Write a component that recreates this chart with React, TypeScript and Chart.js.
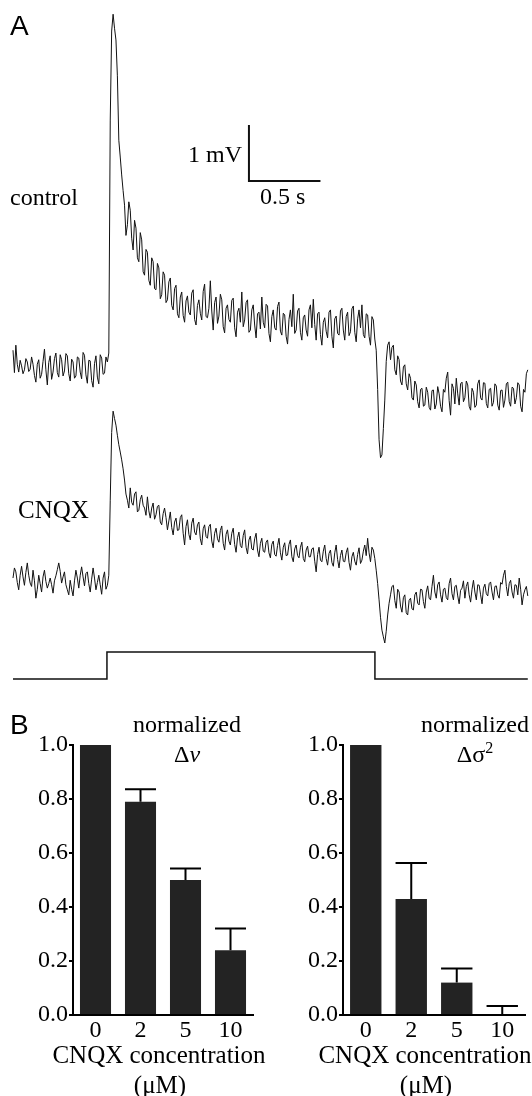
import React, { useEffect, useRef } from "react";
import { Chart, registerables } from "chart.js";

Chart.register(...registerables);

// ---------------- Panel A data (membrane potential, mV; sampled every DT s) ----------------
const DT = 0.01;

const CONTROL_MV = [
  0.30, -0.10, 0.39, 0.05, -0.09, 0.12, 0.02, -0.12, -0.05, 0.15, 0.09, -0.08, -0.04, 0.18, 0.05, -0.15, -0.27, 0.05, 0.13, -0.20,
  -0.13, 0.10, 0.32, -0.05, -0.32, 0.08, 0.20, -0.22, -0.09, 0.15, 0.25, -0.10, -0.18, 0.22, 0.13, -0.16, -0.07, 0.24, 0.20, -0.12,
  -0.25, 0.14, 0.09, -0.20, -0.16, 0.18, 0.16, -0.09, -0.21, 0.26, 0.21, -0.14, -0.29, 0.12, 0.11, -0.24, -0.36, 0.06, 0.20, -0.18,
  -0.30, 0.22, 0.16, -0.13, -0.11, 0.18, 0.09, 0.25, 4.41, 6.00, 6.30, 6.05, 5.84, 5.20, 4.05, 3.75, 3.43, 3.15, 2.89, 2.35,
  2.54, 2.95, 2.80, 2.30, 2.09, 2.62, 2.48, 1.95, 1.88, 2.40, 2.27, 1.70, 1.64, 2.10, 2.05, 1.55, 1.46, 1.95, 1.88, 1.40,
  1.38, 1.85, 1.77, 1.22, 1.29, 1.70, 1.64, 1.15, 1.20, 1.52, 1.59, 1.10, 1.02, 1.40, 1.46, 0.95, 0.88, 1.25, 1.34, 0.92,
  0.80, 1.18, 1.27, 0.98, 0.93, 1.32, 1.38, 0.85, 0.75, 1.10, 1.20, 0.96, 0.84, 1.35, 1.48, 0.90, 0.88, 1.05, 1.54, 1.00,
  0.66, 1.15, 1.25, 0.78, 0.91, 1.30, 1.20, 0.72, 0.61, 1.05, 1.11, 0.85, 0.80, 1.19, 1.23, 0.70, 0.54, 0.98, 1.05, 0.80,
  1.34, 0.72, 0.84, 1.15, 1.20, 0.62, 0.66, 1.02, 1.11, 0.75, 0.52, 0.95, 0.98, 0.68, 1.25, 0.80, 0.70, 1.12, 1.09, 0.60,
  0.45, 0.90, 1.02, 0.70, 0.66, 1.08, 1.16, 0.64, 0.57, 0.96, 0.93, 0.55, 0.41, 0.85, 1.02, 0.72, 1.30, 0.60, 0.66, 1.00,
  1.05, 0.62, 0.48, 0.88, 0.93, 0.66, 0.55, 1.02, 1.11, 0.70, 1.21, 0.76, 0.48, 0.95, 0.98, 0.58, 0.39, 0.80, 0.88, 0.64,
  0.52, 0.98, 1.02, 0.55, 0.34, 0.86, 0.91, 0.60, 0.57, 1.00, 1.05, 0.66, 0.48, 0.90, 0.98, 0.56, 0.63, 1.04, 1.09, 0.62,
  0.45, 0.86, 1.02, 0.70, 1.11, 0.58, 0.52, 0.95, 0.93, 0.55, 0.39, 0.90, 0.84, 0.50, 0.30, -0.40, -1.30, -1.62, -1.57, -1.10,
  -0.59, 0.10, 0.39, 0.45, 0.13, 0.35, 0.39, -0.05, -0.14, 0.20, 0.13, -0.25, -0.32, 0.00, 0.04, -0.30, -0.41, -0.12, -0.20, -0.55,
  -0.59, -0.25, -0.32, -0.62, -0.73, -0.40, -0.38, -0.70, -0.68, -0.36, -0.45, -0.72, -0.77, -0.42, -0.41, -0.75, -0.66, -0.35, -0.48, -0.70,
  -0.80, -0.40, -0.45, -0.20, -0.09, -0.60, -0.86, -0.30, -0.38, -0.66, -0.20, -0.48, -0.68, -0.30, -0.27, -0.62, -0.55, -0.25, -0.32, -0.70,
  -0.77, -0.38, -0.45, -0.72, -0.68, -0.30, -0.23, -0.55, -0.59, -0.28, -0.29, -0.65, -0.73, -0.40, -0.38, -0.70, -0.63, -0.30, -0.34, -0.68,
  -0.77, -0.42, -0.41, -0.72, -0.59, -0.30, -0.27, -0.62, -0.70, -0.36, -0.38, -0.66, -0.55, -0.28, -0.32, -0.70, -0.80, -0.40, -0.45, -0.12,
  -0.05,
];

const CNQX_MV = [
  0.00, 0.18, 0.11, -0.08, -0.21, 0.05, 0.21, 0.02, -0.13, 0.10, 0.27, 0.05, -0.09, -0.15, 0.14, -0.05, -0.36, -0.20, 0.05, -0.10,
  -0.25, 0.02, 0.14, -0.06, -0.18, -0.10, 0.00, -0.12, -0.27, -0.05, 0.04, 0.15, 0.27, 0.12, -0.09, 0.02, 0.11, -0.12, -0.21, -0.30,
  -0.04, -0.20, -0.32, -0.05, 0.14, 0.00, -0.18, 0.05, 0.20, 0.02, -0.14, 0.08, 0.11, -0.10, -0.25, -0.02, 0.18, 0.00, -0.21, -0.08,
  0.05, -0.12, -0.29, 0.00, 0.11, -0.20, -0.13, 0.05, 1.39, 2.60, 2.98, 2.85, 2.73, 2.55, 2.38, 2.25, 2.11, 1.95, 1.75, 1.50,
  1.39, 1.25, 1.61, 1.35, 1.30, 1.50, 1.54, 1.18, 1.21, 1.40, 1.48, 1.30, 1.25, 1.12, 1.45, 1.20, 1.07, 1.25, 1.34, 1.05,
  1.13, 1.28, 1.30, 1.00, 0.95, 1.15, 1.25, 1.08, 0.86, 1.02, 1.18, 0.90, 0.77, 1.00, 1.07, 0.85, 0.86, 1.08, 1.13, 0.80,
  0.59, 0.92, 1.04, 0.78, 0.68, 0.98, 1.07, 0.82, 0.77, 0.95, 1.00, 0.70, 0.59, 0.88, 0.95, 0.74, 0.71, 0.92, 0.96, 0.66,
  0.54, 0.80, 0.89, 0.70, 0.64, 0.85, 0.93, 0.62, 0.50, 0.78, 0.86, 0.66, 0.59, 0.80, 0.89, 0.60, 0.46, 0.72, 0.82, 0.58,
  0.54, 0.76, 0.86, 0.55, 0.43, 0.68, 0.75, 0.52, 0.50, 0.70, 0.80, 0.50, 0.38, 0.62, 0.71, 0.48, 0.46, 0.64, 0.68, 0.45,
  0.36, 0.60, 0.66, 0.42, 0.39, 0.58, 0.71, 0.45, 0.32, 0.55, 0.63, 0.40, 0.41, 0.60, 0.68, 0.38, 0.29, 0.52, 0.59, 0.40,
  0.36, 0.55, 0.64, 0.35, 0.29, 0.50, 0.57, 0.38, 0.38, 0.52, 0.54, 0.30, 0.11, 0.42, 0.55, 0.32, 0.29, 0.48, 0.59, 0.35,
  0.23, 0.44, 0.50, 0.28, 0.21, 0.45, 0.59, 0.33, 0.18, 0.40, 0.50, 0.30, 0.29, 0.45, 0.54, 0.28, 0.14, 0.38, 0.46, 0.30,
  0.23, 0.42, 0.54, 0.26, 0.32, 0.48, 0.59, 0.40, 0.71, 0.45, 0.29, 0.55, 0.50, 0.35, 0.14, -0.10, -0.39, -0.70, -0.93, -1.05,
  -1.16, -0.95, -0.66, -0.45, -0.30, -0.15, -0.13, -0.40, -0.54, -0.20, -0.25, -0.50, -0.61, -0.35, -0.30, -0.62, -0.66, -0.40, -0.36, -0.55,
  -0.57, -0.30, -0.25, -0.45, -0.48, -0.20, -0.21, -0.42, -0.54, -0.25, -0.14, -0.36, -0.39, -0.15, 0.05, -0.25, -0.36, -0.12, -0.07, -0.30,
  -0.43, -0.20, -0.18, -0.35, -0.39, -0.10, 0.00, -0.28, -0.39, -0.15, -0.13, -0.32, -0.46, -0.22, -0.18, -0.05, -0.36, -0.15, -0.07, -0.30,
  -0.43, -0.20, -0.04, -0.25, -0.39, -0.12, -0.13, -0.30, -0.46, -0.18, -0.11, -0.28, -0.32, -0.10, -0.07, -0.25, -0.39, -0.15, -0.14, -0.30,
  -0.36, -0.08, -0.11, 0.05, 0.14, -0.15, -0.32, -0.10, -0.04, -0.25, -0.36, -0.12, -0.13, -0.30, 0.00, -0.20, -0.48, -0.30, -0.21, -0.15,
  -0.32,
];

// stimulus timing, s, and on/off level
const STIM_T = [0, 0.657, 0.657, 2.531, 2.531, 3.6];
const STIM_LEVEL = [0, 0, 1, 1, 0, 0];

// scale bar: 1 mV, 0.5 s
const SCALE_BAR_T = [1.65, 1.65, 2.15];
const SCALE_BAR_MV = [4.32, 3.32, 3.32];

// ---------------- Panel B data ----------------
const CONC_LABELS = ["0", "2", "5", "10"];
const DV_MEAN = [1.0, 0.79, 0.5, 0.24];
const DV_ERR = [0, 0.046, 0.043, 0.08];
const DVAR_MEAN = [1.0, 0.43, 0.12, 0.0];
const DVAR_ERR = [0, 0.133, 0.052, 0.033];
const Y_TICK_STEP = 0.2;
const X_TITLE = ["CNQX concentration", "(\u03bcM)"];

// ---------------- styling / layout constants ----------------
const SERIF = "'Liberation Serif', 'Times New Roman', serif";
const SANS = "'Liberation Sans', Arial, sans-serif";
const INK = "#111";
const BAR_COLOR = "#232323";
const TRACE_OFFSET = { control: 0, cnqx: -3.768, stim: -5.571 };
const STIM_HEIGHT = 0.482;
const TOP_X = { min: -0.0909, max: 3.6294 };
const TOP_Y = { min: -5.946, max: 6.554 };

const errorBarPlugin = {
  id: "errbars",
  afterDatasetsDraw(chart: any, _args: any, opts: any) {
    const errs: number[] = opts.errors || [];
    const ds = chart.data.datasets[0];
    const meta = chart.getDatasetMeta(0);
    const ys = chart.scales.y;
    const ctx = chart.ctx;
    ctx.save();
    ctx.strokeStyle = "#000";
    ctx.lineWidth = 2;
    meta.data.forEach((bar: any, i: number) => {
      const e = errs[i];
      if (!e) return;
      const v = ds.data[i];
      const y0 = ys.getPixelForValue(v);
      const y1 = ys.getPixelForValue(v + e);
      const half = bar.width / 2;
      ctx.beginPath();
      ctx.moveTo(bar.x, y0);
      ctx.lineTo(bar.x, y1);
      ctx.moveTo(bar.x - half, y1);
      ctx.lineTo(bar.x + half, y1);
      ctx.stroke();
    });
    ctx.restore();
  },
};

function topConfig(): any {
  const control = CONTROL_MV.map((v, i) => ({ x: i * DT, y: v + TRACE_OFFSET.control }));
  const cnqx = CNQX_MV.map((v, i) => ({ x: i * DT, y: v + TRACE_OFFSET.cnqx }));
  const stim = STIM_T.map((t, i) => ({ x: t, y: TRACE_OFFSET.stim + STIM_LEVEL[i] * STIM_HEIGHT }));
  const bar = SCALE_BAR_T.map((t, i) => ({ x: t, y: SCALE_BAR_MV[i] }));
  const line = (data: any[], w: number) => ({
    data,
    borderColor: INK,
    borderWidth: w,
    pointRadius: 0,
    tension: 0,
    fill: false,
  });
  return {
    type: "line",
    data: { datasets: [line(control, 1), line(cnqx, 1), line(stim, 1.5), line(bar, 2)] },
    options: {
      animation: false,
      responsive: false,
      events: [],
      layout: { autoPadding: false, padding: 0 },
      plugins: { legend: { display: false }, tooltip: { enabled: false } },
      scales: {
        x: { type: "linear", display: false, min: TOP_X.min, max: TOP_X.max },
        y: { type: "linear", display: false, min: TOP_Y.min, max: TOP_Y.max },
      },
    },
  };
}

function barConfig(values: number[], errors: number[], yAxisWidth: number, padRight: number): any {
  const font = { family: SERIF, size: 24 };
  return {
    type: "bar",
    data: {
      labels: CONC_LABELS,
      datasets: [
        {
          data: values,
          backgroundColor: BAR_COLOR,
          borderWidth: 0,
          barPercentage: 0.69,
          categoryPercentage: 1,
        },
      ],
    },
    options: {
      animation: false,
      responsive: false,
      events: [],
      layout: { autoPadding: false, padding: { top: 45, right: padRight, left: 0, bottom: 0 } },
      plugins: {
        legend: { display: false },
        tooltip: { enabled: false },
        errbars: { errors },
      },
      scales: {
        x: {
          grid: { display: true, drawOnChartArea: false, drawTicks: false },
          border: { display: true, color: "#000", width: 2 },
          ticks: { color: "#000", font, padding: 1, maxRotation: 0, autoSkip: false },
          afterFit: (s: any) => {
            s.height = 85;
          },
        },
        y: {
          min: 0,
          max: 1,
          ticks: {
            stepSize: Y_TICK_STEP,
            callback: (v: any) => Number(v).toFixed(1),
            color: "#000",
            font,
            padding: 1,
          },
          grid: { display: true, drawOnChartArea: false, drawTicks: true, tickLength: 4, color: "#000", lineWidth: 2 },
          border: { display: true, color: "#000", width: 2 },
          afterFit: (s: any) => {
            s.width = yAxisWidth;
          },
        },
      },
    },
    plugins: [errorBarPlugin],
  };
}

function Label(props: {
  x: number;
  top: number;
  size?: number;
  family?: string;
  align?: "left" | "center" | "right";
  children: React.ReactNode;
}) {
  const { x, top, size = 24, family = SERIF, align = "left", children } = props;
  const shift = align === "center" ? "translateX(-50%)" : align === "right" ? "translateX(-100%)" : "none";
  return (
    <div
      style={{
        position: "absolute",
        left: x,
        top,
        fontFamily: family,
        fontSize: size,
        lineHeight: `${size}px`,
        whiteSpace: "nowrap",
        color: "#000",
        transform: shift,
      }}
    >
      {children}
    </div>
  );
}

export default function App() {
  const topRef = useRef<HTMLCanvasElement>(null);
  const leftRef = useRef<HTMLCanvasElement>(null);
  const rightRef = useRef<HTMLCanvasElement>(null);

  useEffect(() => {
    const charts: Chart[] = [];
    if (topRef.current) charts.push(new Chart(topRef.current, topConfig()));
    if (leftRef.current) charts.push(new Chart(leftRef.current, barConfig(DV_MEAN, DV_ERR, 73, 13)));
    if (rightRef.current) charts.push(new Chart(rightRef.current, barConfig(DVAR_MEAN, DVAR_ERR, 77, 7)));
    return () => charts.forEach((c) => c.destroy());
  }, []);

  return (
    <div
      style={{
        position: "absolute",
        left: 0,
        top: 0,
        width: 532,
        height: 1096,
        overflow: "hidden",
        background: "#fff",
      }}
    >
      <canvas ref={topRef} width={532} height={700} style={{ position: "absolute", left: 0, top: 0 }} />
      <canvas ref={leftRef} width={266} height={400} style={{ position: "absolute", left: 0, top: 700 }} />
      <canvas ref={rightRef} width={266} height={400} style={{ position: "absolute", left: 266, top: 700 }} />

      <Label x={10} top={12} size={28} family={SANS}>A</Label>
      <Label x={10} top={185}>control</Label>
      <Label x={18} top={497} size={25}>CNQX</Label>
      <Label x={242} top={142} align="right">1 mV</Label>
      <Label x={260} top={184}>0.5 s</Label>

      <Label x={10} top={711} size={28} family={SANS}>B</Label>
      <Label x={187} top={712} align="center">normalized</Label>
      <Label x={187} top={742} align="center">
        {"\u0394"}
        <i>v</i>
      </Label>
      <Label x={475} top={712} align="center">normalized</Label>
      <Label x={475} top={742} align="center">
        {"\u0394\u03c3"}
        <span style={{ fontSize: 16, position: "relative", top: -9 }}>2</span>
      </Label>

      <Label x={159} top={1042} size={25} align="center">{X_TITLE[0]}</Label>
      <Label x={160} top={1072} size={25} align="center">{X_TITLE[1]}</Label>
      <Label x={425} top={1042} size={25} align="center">{X_TITLE[0]}</Label>
      <Label x={426} top={1072} size={25} align="center">{X_TITLE[1]}</Label>
    </div>
  );
}
